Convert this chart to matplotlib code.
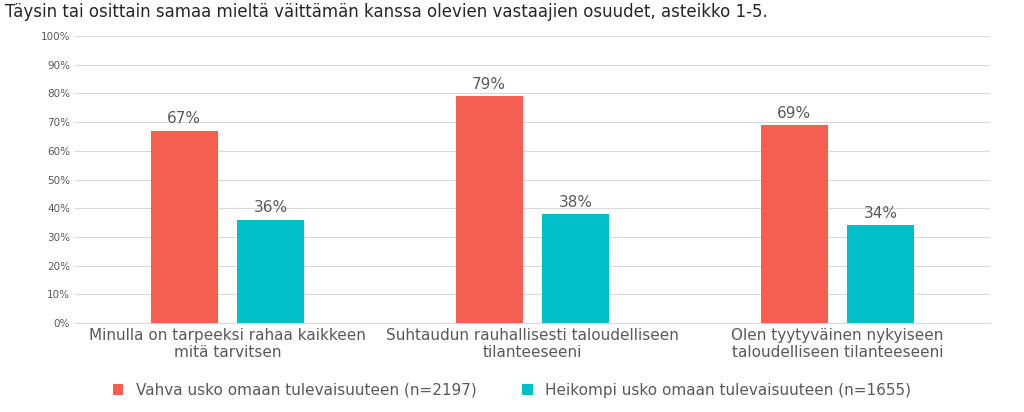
import matplotlib
matplotlib.use("Agg")
import matplotlib.pyplot as plt
import numpy as np

categories = ["Minulla on tarpeeksi rahaa kaikkeen\nmitä tarvitsen",
              "Suhtaudun rauhallisesti taloudelliseen\ntilanteeseeni",
              "Olen tyytyväinen nykyiseen\ntaloudelliseen tilanteeseeni"]
strong = [67, 79, 69]
weak = [36, 38, 34]
series_names = ["Vahva usko omaan tulevaisuuteen (n=2197)",
                "Heikompi usko omaan tulevaisuuteen (n=1655)"]
colors = ["#F45F4F", "#00BFC8"]
title = "Täysin tai osittain samaa mieltä väittämän kanssa olevien vastaajien osuudet, asteikko 1-5."

fig = plt.figure(figsize=(10.24, 4.12), dpi=100)
ax = fig.add_axes([75/1024, 1-323/412, 915/1024, 287/412])
x = np.arange(len(categories))
w = 0.22
off = 0.142
b1 = ax.bar(x - off, strong, w, color=colors[0], label=series_names[0], zorder=3)
b2 = ax.bar(x + off, weak, w, color=colors[1], label=series_names[1], zorder=3)
for bars in (b1, b2):
    for r in bars:
        ax.text(r.get_x() + r.get_width()/2, r.get_height() + 1.5, f"{int(r.get_height())}%",
                ha="center", va="bottom", fontsize=11, color="#595959")
ax.set_xlim(-0.5, 2.5)
ax.set_ylim(0, 100)
ax.set_yticks(range(0, 101, 10))
ax.set_yticklabels([f"{v}%" for v in range(0, 101, 10)], fontsize=7.5, color="#595959")
ax.set_xticks(x)
ax.set_xticklabels(categories, fontsize=11, color="#595959")
ax.tick_params(length=0)
ax.grid(axis="y", color="#D9D9D9", lw=0.8, zorder=0)
for s in ["top", "right", "left"]:
    ax.spines[s].set_visible(False)
ax.spines["bottom"].set_color("#D9D9D9")
fig.text(5/1024, 1-12/412, title, fontsize=12, color="#262626", va="center")
fig.legend(loc="center", bbox_to_anchor=(0.5, 1-390/412), ncol=2, frameon=False,
           fontsize=11, handlelength=0.7, handleheight=0.7, columnspacing=3,
           labelcolor="#595959")
fig.savefig("out.png", dpi=100)
